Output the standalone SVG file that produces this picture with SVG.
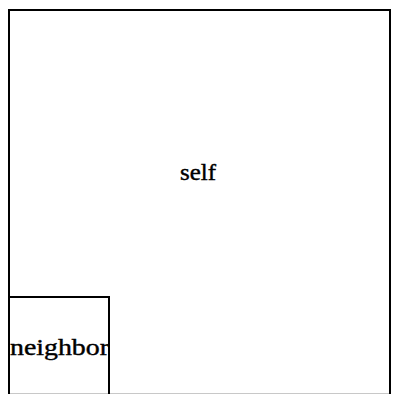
<svg xmlns="http://www.w3.org/2000/svg" width="394" height="394" viewBox="0 0 394 394">
<style>
.box{fill:none;stroke:#000;stroke-width:2}
.lbl{font-family:"Liberation Serif","DejaVu Serif",serif;font-size:23px;fill:#000;stroke:#000;stroke-width:0.4;text-anchor:start}
</style>
<rect width="394" height="394" fill="#fff"/>
<line x1="9" y1="393.5" x2="390" y2="393.5" stroke="#c8c8c8" stroke-width="1"/>
<g id="self">
<path class="box" d="M9,400 V10 H390 V400"/>
<text class="lbl" x="180" y="180" textLength="36" lengthAdjust="spacingAndGlyphs">self</text>
</g>
<g id="neighbor">
<path class="box" d="M9,297 H109 V400"/>
<text class="lbl" x="10" y="355" textLength="99" lengthAdjust="spacingAndGlyphs">neighbor</text>
</g>
<g id="connectors"></g>
</svg>
